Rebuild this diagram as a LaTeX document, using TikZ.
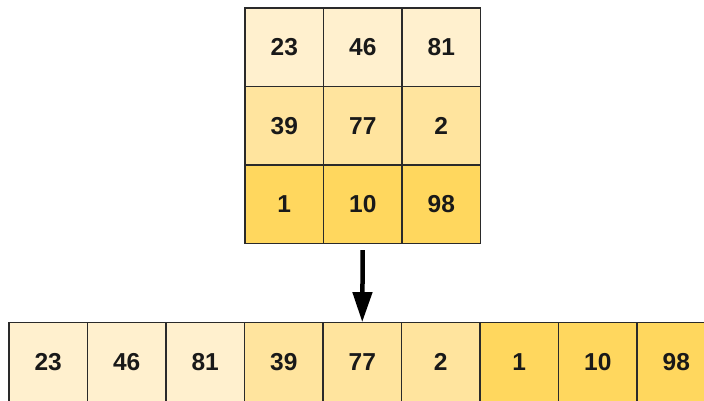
\documentclass[tikz,border=0pt]{standalone}
\usepackage{fontspec}
\setmainfont{Liberation Sans}
\usetikzlibrary{arrows.meta}
\definecolor{rowA}{HTML}{FFF0CE}
\definecolor{rowB}{HTML}{FFE49E}
\definecolor{rowC}{HTML}{FFD75E}
\definecolor{edge}{HTML}{2A2A2A}
\tikzset{
  cell/.style={draw=edge, line width=1.2pt, minimum size=78.5pt, inner sep=0pt,
    font=\fontsize{24.5}{24.5}\selectfont\bfseries, text=black!90},
  flowarrow/.style={line width=4.5pt, -{Triangle[width=19pt,length=30pt]}, shorten <=6pt}
}
\begin{document}
\begin{tikzpicture}[x=1pt,y=-1pt]
\useasboundingbox (0,0) rectangle (704,401);
\clip (0,0) rectangle (704,401);
% 3x3 grid
\node[cell, fill=rowA] (g11) at (284.25,47.25) {23};
\node[cell, fill=rowA] (g12) at (362.75,47.25) {46};
\node[cell, fill=rowA] (g13) at (441.25,47.25) {81};
\node[cell, fill=rowB] (g21) at (284.25,125.75) {39};
\node[cell, fill=rowB] (g22) at (362.75,125.75) {77};
\node[cell, fill=rowB] (g23) at (441.25,125.75) {2};
\node[cell, fill=rowC] (g31) at (284.25,204.25) {1};
\node[cell, fill=rowC] (g32) at (362.75,204.25) {10};
\node[cell, fill=rowC] (g33) at (441.25,204.25) {98};
% flattened row
\node[cell, fill=rowA] (b1) at (48.25,362) {23};
\node[cell, fill=rowA] (b2) at (126.75,362) {46};
\node[cell, fill=rowA] (b3) at (205.25,362) {81};
\node[cell, fill=rowB] (b4) at (283.75,362) {39};
\node[cell, fill=rowB] (b5) at (362.25,362) {77};
\node[cell, fill=rowB] (b6) at (440.75,362) {2};
\node[cell, fill=rowC] (b7) at (519.25,362) {1};
\node[cell, fill=rowC] (b8) at (597.75,362) {10};
\node[cell, fill=rowC] (b9) at (676.25,362) {98};
% arrow
\draw[flowarrow] (g32.south) -- (b5.north);
\end{tikzpicture}
\end{document}
